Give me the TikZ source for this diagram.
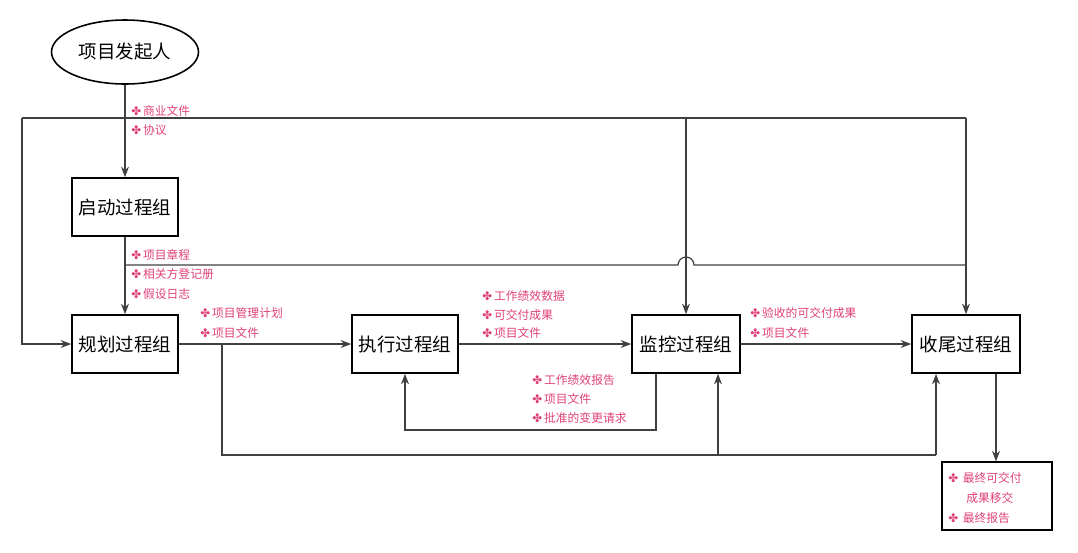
\documentclass[tikz,border=0pt]{standalone}
\usepackage{fontspec}
\setmainfont{Noto Sans CJK SC}
\newfontfamily\djfont{DejaVu Sans}
\usetikzlibrary{shapes.geometric,arrows.meta}
\definecolor{pk}{HTML}{E0407A}
\tikzset{
 grp/.style={draw,line width=0.9pt,minimum width=2.12cm,minimum height=1.16cm,font=\fontsize{10.5}{12}\selectfont,inner sep=0pt},
 lab/.style={text=pk,font=\fontsize{6.7}{8}\selectfont,anchor=west,inner sep=0pt},
 ln/.style={draw=black!75,line width=0.7pt},
 ar/.style={ln,-{Stealth[length=6pt,width=4.5pt]}}
}
\newcommand{\fl}{{\djfont\char"2724}\,}
\begin{document}
\begin{tikzpicture}[x=0.02cm,y=-0.02cm]
\useasboundingbox (0,0) rectangle (1078,552);
\node[ellipse,draw,line width=0.9pt,minimum width=2.4cm,minimum height=1.28cm,font=\fontsize{10.5}{12}\selectfont] (s) at (125,52) {项目发起人};
\node[grp] (a) at (125,207) {启动过程组};
\node[grp] (p) at (125,344) {规划过程组};
\node[grp] (e) at (405,344) {执行过程组};
\node[grp,minimum width=2.16cm] (m) at (686,344) {监控过程组};
\node[grp,minimum width=2.16cm] (c) at (966,344) {收尾过程组};
\node[draw,line width=0.7pt,minimum width=2.2cm,minimum height=1.36cm] (f) at (997,496) {};
\node[lab] (l1) at (131,111) {\fl 商业文件};
\node[lab] (l2) at (131,130) {\fl 协议};
\node[lab] (l3) at (131,255) {\fl 项目章程};
\node[lab] (l4) at (131,274) {\fl 相关方登记册};
\node[lab] (l5) at (131,294) {\fl 假设日志};
\node[lab] (l6) at (200,313) {\fl 项目管理计划};
\node[lab] (l7) at (200,333) {\fl 项目文件};
\node[lab] (l8) at (482,296) {\fl 工作绩效数据};
\node[lab] (l9) at (482,315) {\fl 可交付成果};
\node[lab] (l10) at (482,333) {\fl 项目文件};
\node[lab] (l11) at (750,313) {\fl 验收的可交付成果};
\node[lab] (l12) at (750,333) {\fl 项目文件};
\node[lab] (l13) at (532,380) {\fl 工作绩效报告};
\node[lab] (l14) at (532,399) {\fl 项目文件};
\node[lab] (l15) at (532,418) {\fl 批准的变更请求};
\node[lab] (l16) at (948,478) {\fl\ 最终可交付};
\node[lab] (l16b) at (966,498) {成果移交};
\node[lab] (l17) at (948,518) {\fl\ 最终报告};
\draw[ar] (s) -- (a);
\draw[ar] (a) -- (p);
\draw[ar] (p) -- (e);
\draw[ar] (e) -- (m);
\draw[ar] (m) -- (c);
\coordinate (t1) at (22,118);
\coordinate (t2) at (966,118);
\draw[ln] (t1) -- (t2);
\draw[ar] (t1) |- (p.west);
\draw[ar] (686,118) -- (m.north);
\draw[ar] (t2) -- (c.north);
\draw[ln] (125,265) -- (678,265) arc(180:360:8) -- (966,265);
\coordinate (b1) at (656,430);
\draw[ar] (m.south -| b1) |- (405,430) -- (e.south);
\coordinate (b2) at (222,344);
\draw[ln] (b2) |- (936,455);
\draw[ar] (936,455) -- (c.south -| 936,0);
\draw[ar] (718,455) -- (m.south -| 718,0);
\draw[ar] (c.south -| 996,0) -- (f.north -| 996,0);
\end{tikzpicture}
\end{document}
